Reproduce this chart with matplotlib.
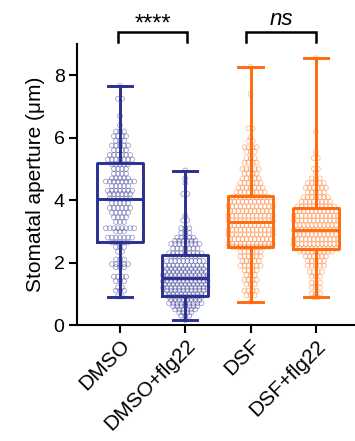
import matplotlib
matplotlib.use("Agg")
import matplotlib.pyplot as plt
import numpy as np

plt.rcParams['font.family'] = ['Liberation Sans', 'DejaVu Sans']

categories = ["DMSO", "DMSO+flg22", "DSF", "DSF+flg22"]
colors = ["#2B2F8F", "#2B2F8F", "#FF6A0D", "#FF6A0D"]

# box stats: min, q1, median, q3, max
mins = [0.91, 0.16, 0.75, 0.89]
q1s = [2.67, 0.94, 2.49, 2.43]
medians = [4.05, 1.50, 3.29, 3.04]
q3s = [5.20, 2.24, 4.13, 3.74]
maxs = [7.66, 4.95, 8.27, 8.55]

dmso_vals = [7.66, 7.25, 6.7, 6.4, 6.2, 6.05, 5.9, 5.75, 5.6, 5.45, 5.3, 5.15, 5.0, 4.85, 4.7, 4.6,
             4.45, 4.3, 4.2, 4.05, 3.9, 3.75, 3.6, 3.45, 3.3, 3.1, 3.0, 2.8, 2.65, 2.5, 2.35, 2.1,
             1.95, 1.85, 1.55, 1.4, 1.2, 1.1, 0.91]
dmso_cnts = [1, 2, 1, 1, 3, 4, 3, 5, 4, 6, 7, 5, 4, 4, 5, 8,
             5, 7, 6, 6, 5, 6, 5, 4, 3, 8, 3, 7, 5, 3, 2, 3,
             5, 3, 4, 3, 2, 3, 2]

flg_vals = [4.95, 4.7, 4.55, 4.2, 3.5, 3.35, 3.1, 2.95, 2.8, 2.7, 2.6, 2.45, 2.3, 2.2, 2.05, 1.9,
            1.8, 1.7, 1.6, 1.5, 1.4, 1.3, 1.2, 1.1, 1.0, 0.9, 0.8, 0.7, 0.6, 0.5, 0.4, 0.3, 0.16]
flg_cnts = [1, 1, 1, 2, 1, 2, 3, 3, 5, 6, 8, 7, 9, 8, 10, 11,
            10, 11, 12, 11, 12, 11, 12, 10, 11, 9, 8, 9, 7, 6, 4, 3, 1]

dsf_vals = [8.27, 7.4, 6.3, 6.0, 5.9, 5.7, 5.55, 5.35, 5.2, 5.0, 4.85, 4.7, 4.55, 4.4, 4.25, 4.1,
            3.95, 3.8, 3.65, 3.5, 3.35, 3.2, 3.05, 2.9, 2.75, 2.6, 2.5, 2.35, 2.2, 2.05, 1.9, 1.75,
            1.6, 1.45, 1.3, 1.1, 0.95, 0.75]
dsf_cnts = [1, 1, 2, 1, 2, 4, 3, 3, 4, 5, 4, 5, 6, 7, 8, 10,
            11, 12, 11, 12, 12, 11, 12, 12, 11, 12, 10, 6, 6, 5, 6, 4,
            3, 4, 3, 4, 3, 1]

dsfflg_vals = [8.55, 6.2, 5.55, 5.35, 5.0, 4.9, 4.7, 4.55, 4.4, 4.25, 4.1, 3.95, 3.8, 3.65, 3.5, 3.35,
               3.2, 3.05, 2.9, 2.75, 2.6, 2.45, 2.35, 2.2, 2.05, 1.9, 1.7, 1.55, 1.35, 1.2, 1.0, 0.89]
dsfflg_cnts = [1, 1, 1, 2, 2, 1, 3, 5, 6, 5, 7, 8, 10, 11, 12, 12,
               11, 12, 11, 12, 12, 11, 9, 6, 5, 5, 4, 3, 3, 3, 3, 2]

values = [dmso_vals, flg_vals, dsf_vals, dsfflg_vals]
counts = [dmso_cnts, flg_cnts, dsf_cnts, dsfflg_cnts]

fig = plt.figure(figsize=(3.55, 4.41), dpi=100)
ax = fig.add_axes([0.217, 0.263, 0.783, 0.637])

# scatter points laid out in horizontal rows
dx = 0.062
for i, (vals, cnts) in enumerate(zip(values, counts)):
    xs, ys = [], []
    for v, n in zip(vals, cnts):
        for k in range(n):
            xs.append(i + (k - (n - 1) / 2) * dx)
            ys.append(v)
    ax.scatter(xs, ys, s=12, facecolors='none', edgecolors=colors[i], linewidths=0.6,
               alpha=0.45, zorder=2, clip_on=False)

stats = []
for i in range(4):
    stats.append(dict(med=medians[i], q1=q1s[i], q3=q3s[i], whislo=mins[i], whishi=maxs[i], fliers=[]))

bp = ax.bxp(stats, positions=range(4), widths=0.70, showfliers=False, patch_artist=False,
            manage_ticks=False)
for i in range(4):
    c = colors[i]
    bp['boxes'][i].set(color=c, linewidth=2.1, zorder=3)
    bp['medians'][i].set(color=c, linewidth=2.1, zorder=3)
    for w in bp['whiskers'][2 * i:2 * i + 2]:
        w.set(color=c, linewidth=2.1, zorder=3)
    for cp in bp['caps'][2 * i:2 * i + 2]:
        cp.set(color=c, linewidth=2.1, zorder=3)
        cp.set_xdata([i - 0.185, i + 0.185])

ax.set_xlim(-0.658, 3.6)
ax.set_ylim(0, 9)
ax.set_yticks([0, 2, 4, 6, 8])
ax.set_xticks(range(4))
ax.set_xticklabels(categories, rotation=45, ha='right', rotation_mode='anchor', fontsize=15)
ax.tick_params(axis='y', labelsize=14, width=1.5, length=6, direction='out', pad=3)
ax.tick_params(axis='x', width=1.5, length=6, direction='out', pad=2)
ax.set_ylabel("Stomatal aperture (μm)", fontsize=15, labelpad=6)
for s in ['top', 'right']:
    ax.spines[s].set_visible(False)
for s in ['left', 'bottom']:
    ax.spines[s].set_linewidth(1.5)

# significance brackets
def bracket(x1, x2, text, style, size, ytxt):
    ax.plot([x1, x1, x2, x2], [9.07, 9.39, 9.39, 9.07], color='black', lw=1.8, clip_on=False,
            solid_joinstyle='miter')
    ax.text((x1 + x2) / 2, ytxt, text, ha='center', va='center', fontsize=size,
            style=style, clip_on=False)

bracket(-0.03, 1.03, "****", 'normal', 17, 9.62)
bracket(1.93, 3.0, "ns", 'italic', 16, 9.8)

fig.savefig("out.png", dpi=100)
